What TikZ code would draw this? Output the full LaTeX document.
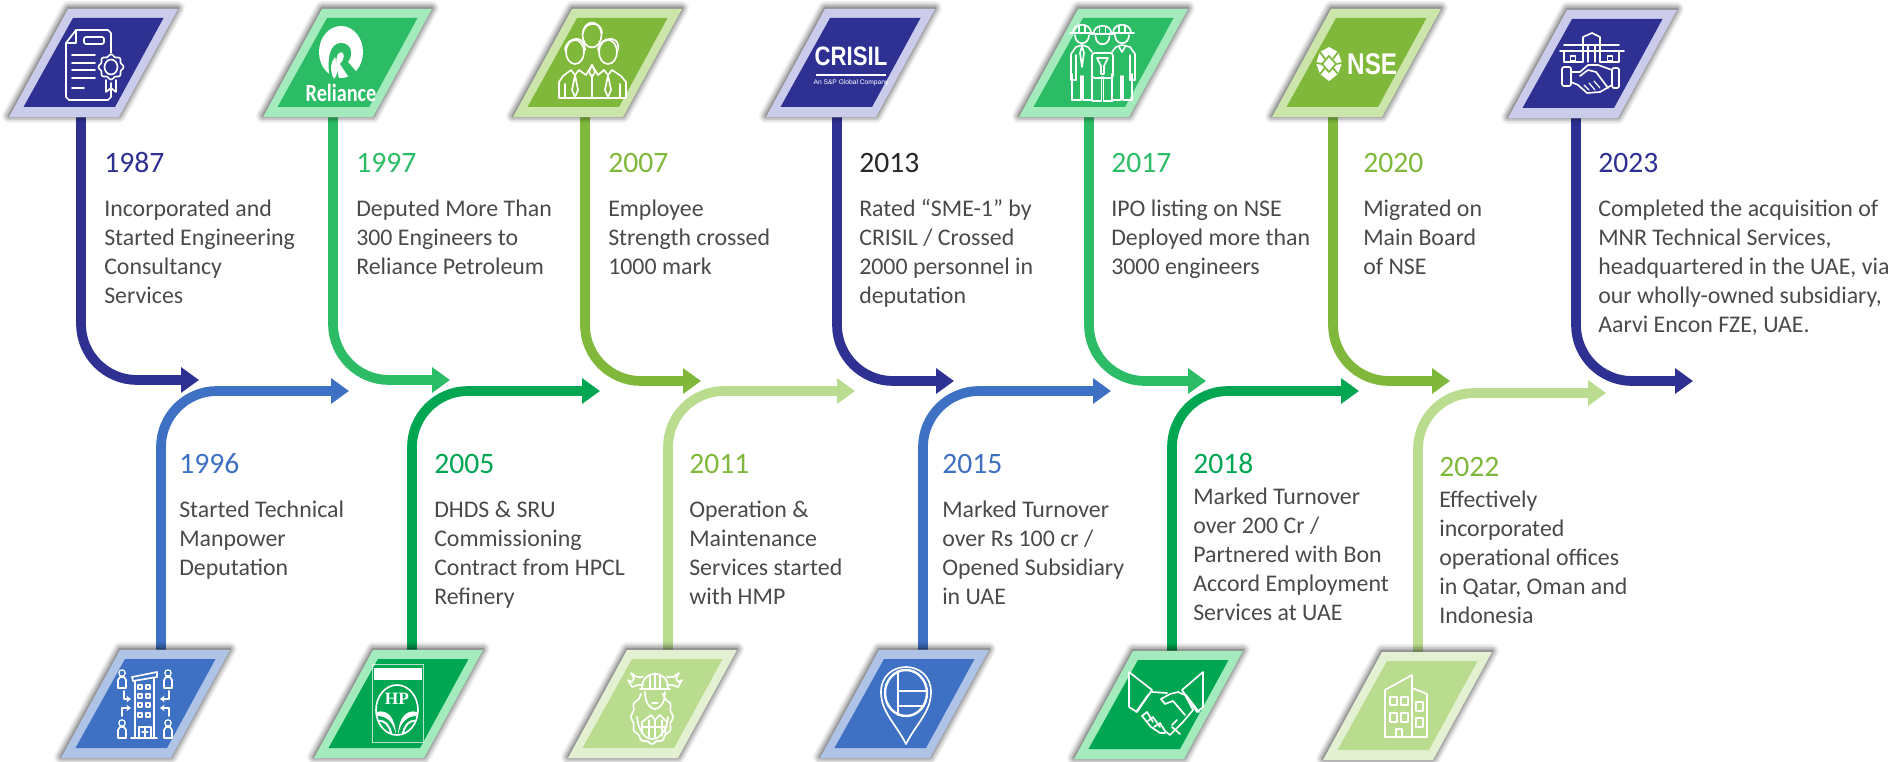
\documentclass[tikz,border=0pt]{standalone}
\usepackage{fontspec}
\setmainfont{Carlito}[Numbers=Lining]
\newfontfamily\logofont{Liberation Sans}
\newfontfamily\hpfont{Liberation Serif}
\usetikzlibrary{arrows.meta}
\definecolor{navy}{HTML}{2E3192}
\definecolor{navyb}{HTML}{CBCCEC}
\definecolor{grn}{HTML}{2CBC65}
\definecolor{grnb}{HTML}{A3EBBD}
\definecolor{lime}{HTML}{7FB83A}
\definecolor{limeb}{HTML}{CCE5AB}
\definecolor{blu}{HTML}{3E71C4}
\definecolor{blub}{HTML}{AEC3E6}
\definecolor{dgrn}{HTML}{00A651}
\definecolor{llime}{HTML}{BADC8F}
\definecolor{llimeb}{HTML}{E3F1D2}
\definecolor{bodyc}{HTML}{4A4A4A}
\tikzset{
  flowline/.style={line width=7.3pt,rounded corners=42pt,-{Triangle[length=13.5pt,width=18.5pt]}},
  cardbox/.style={inner sep=0pt,minimum width=126.75pt,minimum height=81pt},
  yearlab/.style={inner sep=0pt,anchor=base west,font=\fontsize{22.2}{26}\selectfont},
  bodylab/.style={inner sep=0pt,anchor=north west,align=left,text=bodyc,font=\fontsize{17.9}{21.75}\selectfont},
  ic/.style={draw=white,line width=1.25pt,line join=round,line cap=round},
  icthin/.style={draw=white,line width=0.9pt,line join=round,line cap=round}
}
\newcommand{\fstrut}{\rule{0pt}{15pt}}
% card: name, top-left x, top y, fill, border
\newcommand{\card}[5]{%
  \foreach \w/\o in {14/.05,11/.07,8/.09,5/.12,2/.16}{
    \draw[black,opacity=\o,line width=\w*.75pt,line join=round] ({#2},{#3-1}) -- ({#2+110},{#3-1}) -- ({#2+51},{#3+107}) -- ({#2-59},{#3+107}) -- cycle;
  }
  \fill[#5] ({#2},{#3}) -- ({#2+110},{#3}) -- ({#2+51},{#3+108}) -- ({#2-59},{#3+108}) -- cycle;
  \fill[#4] ({#2+5},{#3+9}) -- ({#2+95.5},{#3+9}) -- ({#2+47},{#3+98}) -- ({#2-44.5},{#3+98}) -- cycle;
}
% connector: name, line x, end y, tip x, colour, anchor
\newcommand{\flow}[6]{%
  \coordinate (x#1) at (#2,0);
  \coordinate (e#1) at (#4,#3);
  \draw[flowline,#5] (c#1.#6 -| x#1) |- (e#1);
}
\begin{document}
\begin{tikzpicture}[x=0.75pt,y=-0.75pt]
\useasboundingbox (0,0) rectangle (1891,762);
\fill[white] (0,0) rectangle (1891,762);
% card anchors
\foreach \n/\t/\y in {1987/68/9,1997/322/9,2007/572/9,2013/825/9,2017/1078/9,2020/1331/9,2023/1567/10,1996/120/650,2005/373/650,2011/627/650,2015/879/650,2018/1133/651,2022/1382/652}{
  \node[cardbox] (c\n) at ({\t-4.5+25},{\y+54}) {};
}
% connectors
\flow{1987}{81}{380}{199}{navy}{south}
\flow{1997}{333}{380}{450}{grn}{south}
\flow{2007}{585}{381}{701}{lime}{south}
\flow{2013}{837}{381}{954}{navy}{south}
\flow{2017}{1089}{381}{1206}{grn}{south}
\flow{2020}{1333}{381}{1450}{lime}{south}
\flow{2023}{1576}{381}{1693}{navy}{south}
\flow{1996}{161}{391}{349}{blu}{north}
\flow{2005}{412}{391}{600}{dgrn}{north}
\flow{2011}{668}{391}{855}{llime}{north}
\flow{2015}{923}{391}{1111}{blu}{north}
\flow{2018}{1172}{391}{1359}{dgrn}{north}
\flow{2022}{1418}{393}{1606}{llime}{north}
% cards
\card{1987}{68}{9}{navy}{navyb}
\card{1997}{322}{9}{grn}{grnb}
\card{2007}{572}{9}{lime}{limeb}
\card{2013}{825}{9}{navy}{navyb}
\card{2017}{1078}{9}{grn}{grnb}
\card{2020}{1331}{9}{lime}{limeb}
\card{2023}{1567}{10}{navy}{navyb}
\card{1996}{120}{650}{blu}{blub}
\card{2005}{373}{650}{dgrn}{grnb}
\card{2011}{627}{650}{llime}{llimeb}
\card{2015}{879}{650}{blu}{blub}
\card{2018}{1133}{651}{dgrn}{grnb}
\card{2022}{1382}{652}{llime}{llimeb}

% ---------- icon 1987 certificate
\draw[ic] (66,43) -- (76,30) -- (108,30) -- (111,33) -- (111,53);
\draw[ic] (66,43) -- (66,97) -- (69,100) -- (108,100) -- (111,97) -- (111,83);
\draw[ic] (76,30) -- (76,43) -- (66,43);
\draw[ic,rounded corners=1.5pt] (84,37) rectangle (104,44);
\foreach \yy in {55,63,70,78}{\draw[ic] (72,\yy) -- (95,\yy);}
\draw[ic] (72,88) -- (84,88);
\draw[ic,fill=navy] plot[domain=0:360,samples=73,smooth] ({111+(11.5+1*cos(8*\x))*cos(\x)},{67+(11.5+1*cos(8*\x))*sin(\x)});
\draw[ic] (111,67) ellipse (6.5 and 7.5);
\draw[ic] (106,80) -- (106,92) -- (111,88) -- (116,92) -- (116,80);
% ---------- icon 1997 Reliance
\fill[white] (341,52) ellipse (22 and 26);
\fill[grn] (330,80) .. controls (326,56) and (331,43) .. (341,43) .. controls (351,43) and (354,54) .. (348,62) -- (360,76) -- (352,82) -- (340,64) .. controls (345,60) and (345,52) .. (341,52) .. controls (336,52) and (334,62) .. (340,82) -- cycle;
\fill[white] (334,79) .. controls (329,70) and (331,62) .. (335,57) .. controls (338,66) and (339,73) .. (334,79) -- cycle;
\node[inner sep=0pt,text=white,xscale=.82,font=\fontsize{18.5}{18.5}\bfseries\selectfont] (t1997logo) at (341,93) {Reliance};
% ---------- icon 2007 people
\draw[ic] (575,52) ellipse (9 and 12);
\draw[ic] (608,52) ellipse (9 and 12);
\draw[ic,fill=lime] (592,35) ellipse (9.5 and 12.5);
\draw[ic] (565,50) .. controls (566,42) and (572,38) .. (578,39) .. controls (584,40) and (585,46) .. (585,50);
\draw[ic] (598,50) .. controls (599,42) and (606,38) .. (612,39) .. controls (618,40) and (619,46) .. (618,50);
\draw[ic] (583,33) .. controls (584,26) and (590,23) .. (595,24) .. controls (600,25) and (602,30) .. (602,33);
\draw[ic] (559,98) -- (559,82) -- (563,76) -- (571,70) -- (575,75) -- (579,70) -- (586,75) -- (592,65) -- (598,75) -- (604,70) -- (608,75) -- (612,70) -- (621,76) -- (626,82) -- (626,98) -- cycle;
\draw[ic] (575,75) -- (572,90) -- (575,97) -- (578,90) -- cycle;
\draw[ic] (608,75) -- (605,90) -- (608,97) -- (611,90) -- cycle;
\draw[ic] (592,65) -- (589,72) -- (592,77) -- (595,72) -- cycle;
\draw[ic] (592,77) -- (592,98);
\draw[ic] (565,84) -- (565,98) (620,84) -- (620,98);
% ---------- icon 2013 CRISIL
\node[inner sep=0pt,anchor=base,text=white,xscale=.83,font=\logofont\fontsize{20}{20}\bfseries\selectfont] (t2013logo) at (851,66) {CRISIL};
\draw[white,line width=1.2pt] (816,75) -- (886,75);
\node[inner sep=0pt,anchor=base,text=white,font=\logofont\fontsize{5}{5}\selectfont] (t2013sub) at (851,85) {An S\&P Global Company};
% ---------- icon 2017 engineers
\foreach \cx/\dy in {1082/0,1122/0,1102.5/1}{
  \begin{scope}[shift={(\cx,\dy)}]
  \draw[ic] (-9,33) .. controls (-9,22) and (9,22) .. (9,33);
  \draw[icthin] (-3,26) -- (-3,33) (3,26) -- (3,33);
  \draw[ic] (-12,33) -- (12,33);
  \draw[ic] (-7,35) .. controls (-7,46) and (7,46) .. (7,35);
  \draw[ic] (-10,100) -- (-10,74) (10,100) -- (10,74);
  \draw[ic] (-10,100) -- (-1,100) -- (-1,76) (1,76) -- (1,100) -- (10,100);
  \end{scope}
}
\draw[ic] (1071,80) -- (1071,54) -- (1076,47) -- (1082,45) -- (1088,47) -- (1092,52);
\draw[ic] (1135,80) -- (1135,54) -- (1130,47) -- (1122,45) -- (1116,47) -- (1112,52);
\draw[ic] (1076,55) -- (1076,80) (1130,55) -- (1130,80);
\draw[ic] (1071,80) -- (1076,80) (1130,80) -- (1135,80);
\draw[ic,rounded corners=2pt] (1092,53) rectangle (1113,78);
\draw[ic] (1097,58) -- (1108,58) -- (1104,66) -- (1104,74) -- (1101,74) -- (1101,66) -- cycle;
\draw[ic] (1082,46) -- (1080,53) -- (1082,67) -- (1084,53) -- cycle;
\draw[ic] (1119,47) -- (1122,52) -- (1125,47);
% ---------- icon 2020 NSE
\fill[white] (1329,47) -- (1338,52) -- (1342,63) -- (1338,74) -- (1329,81) -- (1320,74) -- (1316,63) -- (1320,52) -- cycle;
\draw[lime,line width=1.3pt,line join=round] (1329,56) -- (1336,64) -- (1329,72) -- (1322,64) -- cycle;
\draw[lime,line width=1.3pt] (1320,52) -- (1325,59) (1338,52) -- (1333,59) (1320,74) -- (1325,68) (1338,74) -- (1333,68) (1316,63) -- (1322,64) (1342,63) -- (1336,64);
\node[inner sep=0pt,anchor=base west,text=white,xscale=.81,font=\logofont\fontsize{22.5}{22.5}\bfseries\selectfont] (t2020logo) at (1347,75) {NSE};
% ---------- icon 2023 building + handshake
\draw[ic] (1560,51) -- (1624,51);
\draw[ic] (1564,45) -- (1619,45);
\draw[ic] (1583,44) -- (1583,37) -- (1592,33) -- (1600,37) -- (1600,44);
\foreach \xx in {1583,1588,1595,1600}{\draw[icthin] (\xx,45) -- (\xx,62);}
\draw[icthin] (1564,51) -- (1564,62) -- (1583,62) (1600,62) -- (1619,62) -- (1619,51);
\draw[icthin] (1570.5,56) rectangle (1575.5,61);
\draw[icthin] (1607.5,56) rectangle (1612.5,61);
\draw[ic,rounded corners=1.5pt] (1562,67) rectangle (1571,86);
\draw[ic,rounded corners=1.5pt] (1612,68) rectangle (1619,88);
\draw[ic] (1571,72) -- (1580,72) -- (1588,65) -- (1598,65) -- (1612,70);
\draw[ic] (1571,82) -- (1578,85) -- (1587,93) -- (1600,92) -- (1612,85);
\draw[ic] (1580,76) -- (1588,70) -- (1596,72) -- (1608,88);
\draw[icthin] (1584,85) -- (1589,90) (1589,83) -- (1595,90) (1594,81) -- (1600,88);
% ---------- icon 1996
\draw[ic] (132,677) -- (157,672) -- (157,677) -- (133,681) -- cycle;
\draw[ic] (135,681) -- (135,738) (154,678) -- (154,738);
\draw[ic] (131,738) -- (157,738);
\foreach \xx in {140,148}{\foreach \yy in {687,696,705,715}{\draw[icthin] (\xx-2,\yy-2) rectangle (\xx+2,\yy+2);}}
\draw[icthin] (139,727) rectangle (151,738);
\draw[icthin] (145,728) -- (145,738) (142,732) -- (148,732);
\foreach \xx/\yy in {122/675,168/675,122/725,168/725}{
  \draw[icthin] (\xx,\yy-2) circle (3.2);
  \draw[ic] (\xx-4,\yy+13) -- (\xx-4,\yy+5) -- (\xx-2,\yy+2) -- (\xx+2,\yy+2) -- (\xx+4,\yy+5) -- (\xx+4,\yy+13) -- cycle;
}
\draw[ic,-{Stealth[length=3.5pt,width=5pt]}] (124,691) -- (124,699) -- (131,699);
\draw[ic,-{Stealth[length=3.5pt,width=5pt]}] (169,691) -- (169,699) -- (160,699);
\draw[ic,-{Stealth[length=3.5pt,width=5pt]}] (122,716) -- (122,708) -- (131,708);
\draw[ic,-{Stealth[length=3.5pt,width=5pt]}] (169,716) -- (169,708) -- (160,708);
% ---------- icon 2005 HP
\draw[white,opacity=.7,line width=.5pt] (372,664) rectangle (423,742);
\fill[white] (374,668) rectangle (422,680);
\draw[ic] (397,710) ellipse (21 and 25);
\node[inner sep=0pt,text=white,font=\hpfont\fontsize{13}{13}\bfseries\selectfont] (t2005logo) at (397,699) {HP};
\fill[white] (377,712) .. controls (388,709) and (395,718) .. (396,734) .. controls (393,722) and (387,716) .. (377,716) -- cycle;
\fill[white] (417,712) .. controls (406,709) and (399,718) .. (398,734) .. controls (401,722) and (407,716) .. (417,716) -- cycle;
\draw[white,line width=1.5pt] (378,721) .. controls (385,720) and (389,725) .. (391,733);
\draw[white,line width=1.5pt] (416,721) .. controls (409,720) and (405,725) .. (403,733);
% ---------- icon 2011 worker
\draw[ic] (642,688) .. controls (642,669) and (668,669) .. (668,688);
\draw[icthin] (650,675) -- (650,688) (655,673) -- (655,688) (660,675) -- (660,688);
\draw[ic] (640,689) -- (670,689);
\draw[ic] (643,677) -- (637,677) -- (631,673) -- (634,678) -- (632,682) -- (628,680) -- (632,687) -- (638,685) -- (643,685);
\draw[ic] (667,677) -- (673,677) -- (679,673) -- (676,678) -- (678,682) -- (682,680) -- (678,687) -- (672,685) -- (667,685);
\draw[ic] (645,692) .. controls (645,704) and (651,709) .. (655,709) .. controls (659,709) and (665,704) .. (665,692);
\draw[icthin] (652,703) -- (658,703);
\draw[ic] plot[domain=-60:240,samples=61,smooth] ({652+(20+1*cos(12*\x))*cos(\x)},{717+(26+1*cos(12*\x))*sin(\x)});
\draw[ic] (637,717) .. controls (638,730) and (645,739) .. (652,739) .. controls (660,739) and (667,730) .. (668,717);
\draw[ic] (642,733) -- (642,722) -- (651,715) -- (655,720) -- (660,715) -- (667,722) -- (665,733);
\draw[icthin] (642,727) -- (667,727) (649,720) -- (649,737) (662,720) -- (662,736) (655,720) -- (655,739);
% ---------- icon 2015 pin
\draw[ic] (906,744) .. controls (896,724) and (881,712) .. (881,692) .. controls (881,676) and (893,667) .. (906,667) .. controls (919,667) and (931,676) .. (931,692) .. controls (931,712) and (916,724) .. (906,744) -- cycle;
\draw[white,line width=1.8pt] (906,693) ellipse (21 and 23);
\draw[ic] (898,671) -- (898,715);
\draw[ic] (898,691) -- (926,691) (898,706) -- (924,706);
% ---------- icon 2018 handshake
\draw[ic] (1129,672) -- (1152,690) -- (1137,712) -- (1129,707) -- cycle;
\draw[ic] (1203,672) -- (1182,690) -- (1197,712) -- (1203,707) -- cycle;
\draw[ic] (1148,695) -- (1136,712) (1186,695) -- (1199,712);
\draw[ic] (1152,692) -- (1167,693);
\draw[ic] (1161,699) -- (1170,694) -- (1178,692) -- (1185,695) -- (1193,710) -- (1183,722) -- (1170,735) -- (1165,731);
\draw[ic] (1161,699) -- (1165,704) -- (1173,701) -- (1185,715);
\draw[ic] (1142,716) -- (1151,727) -- (1160,733) -- (1165,733);
\draw[ic] (1142,716) -- (1147,712) -- (1153,722) (1148,721) -- (1153,717) -- (1160,727) (1154,727) -- (1160,723) -- (1165,731);
\draw[ic] (1172,727) -- (1180,734) (1177,720) -- (1172,725);
% ---------- icon 2022 building
\draw[ic] (1385,737) -- (1385,690) -- (1412,675) -- (1412,737);
\draw[ic] (1412,688) -- (1427,694) -- (1427,737) -- (1385,737);
\foreach \xa/\ya/\xb/\yb in {1390/697/1397/705,1401/697/1408/705,1390/713/1397/722,1401/713/1408/722,1416/702/1423/711,1416/718/1423/727,1396/729/1402/737}{
  \draw[ic] (\xa,\ya) rectangle (\xb,\yb);
}
% ---------- years
\node[yearlab,text=navy] (y1987) at (104,173) {1987};
\node[yearlab,text=grn] (y1997) at (356,173) {1997};
\node[yearlab,text=lime] (y2007) at (608,173) {2007};
\node[yearlab,text=black!85] (y2013) at (859,173) {2013};
\node[yearlab,text=grn] (y2017) at (1111,173) {2017};
\node[yearlab,text=lime] (y2020) at (1363,173) {2020};
\node[yearlab,text=navy] (y2023) at (1598,173) {2023};
\node[yearlab,text=blu] (y1996) at (179,474) {1996};
\node[yearlab,text=dgrn] (y2005) at (434,474) {2005};
\node[yearlab,text=lime] (y2011) at (689,474) {2011};
\node[yearlab,text=blu] (y2015) at (942,474) {2015};
\node[yearlab,text=dgrn] (y2018) at (1193,474) {2018};
\node[yearlab,text=lime] (y2022) at (1439,477) {2022};
% ---------- body text
\node[bodylab] (b1987) at (104,196) {\fstrut Incorporated and\\Started Engineering\\Consultancy\\Services};
\node[bodylab] (b1997) at (356,196) {\fstrut Deputed More Than\\300 Engineers to\\Reliance Petroleum};
\node[bodylab] (b2007) at (608,196) {\fstrut Employee\\Strength crossed\\1000 mark};
\node[bodylab] (b2013) at (859,196) {\fstrut Rated “SME-1” by\\CRISIL / Crossed\\2000 personnel in\\deputation};
\node[bodylab] (b2017) at (1111,196) {\fstrut IPO listing on NSE\\Deployed more than\\3000 engineers};
\node[bodylab] (b2020) at (1363,196) {\fstrut Migrated on\\Main Board\\of NSE};
\node[bodylab] (b2023) at (1598,196) {\fstrut Completed the acquisition of\\MNR Technical Services,\\headquartered in the UAE, via\\our wholly-owned subsidiary,\\Aarvi Encon FZE, UAE.};
\node[bodylab] (b1996) at (179,497) {\fstrut Started Technical\\Manpower\\Deputation};
\node[bodylab] (b2005) at (434,497) {\fstrut DHDS \& SRU\\Commissioning\\Contract from HPCL\\Refinery};
\node[bodylab] (b2011) at (689,497) {\fstrut Operation \&\\Maintenance\\Services started\\with HMP};
\node[bodylab] (b2015) at (942,497) {\fstrut Marked Turnover\\over Rs 100 cr /\\Opened Subsidiary\\in UAE};
\node[bodylab] (b2018) at (1193,484) {\fstrut Marked Turnover\\over 200 Cr /\\Partnered with Bon\\Accord Employment\\Services at UAE};
\node[bodylab] (b2022) at (1439,487) {\fstrut Effectively\\incorporated\\operational offices\\in Qatar, Oman and\\Indonesia};
\end{tikzpicture}
\end{document}
